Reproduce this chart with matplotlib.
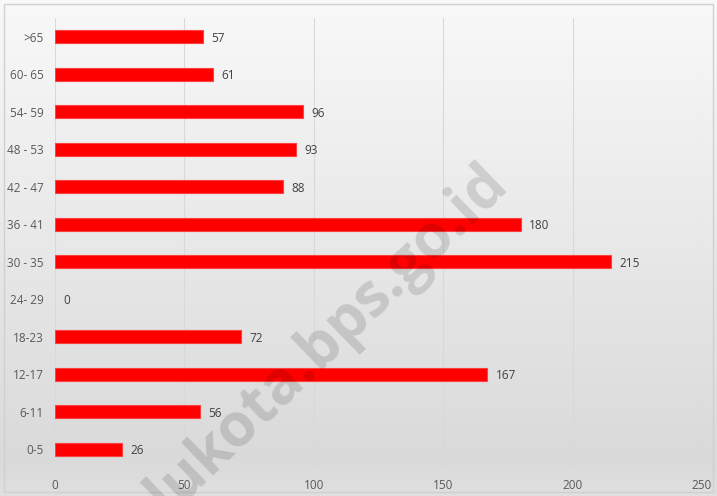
import numpy as np
import matplotlib.pyplot as plt

# age groups, bottom to top
age_groups = ['0-5', '6-11', '12-17', '18-23', '24- 29', '30 - 35', '36 - 41',
              '42 - 47', '48 - 53', '54- 59', '60- 65', '>65']
counts = [26, 56, 167, 72, 0, 215, 180, 88, 93, 96, 61, 57]
x_ticks = [0, 50, 100, 150, 200, 250]

plt.rcParams['font.family'] = ['Open Sans', 'DejaVu Sans']

fig = plt.figure(figsize=(7.17, 4.96), dpi=100)

# gradient background over the whole figure
bg = fig.add_axes([0, 0, 1, 1], zorder=0)
grad = np.linspace(0, 1, 256).reshape(-1, 1)
shade = 0.975 - 0.13 * grad
shade[-20:] += np.linspace(0, 0.03, 20).reshape(-1, 1)
bg.imshow(np.dstack([shade] * 3), aspect='auto', extent=[0, 1, 0, 1])
bg.add_patch(plt.Rectangle((0.006, 0.008), 0.988, 0.984, fill=False,
                           edgecolor='#d0d0d0', lw=1))
bg.set_xlim(0, 1)
bg.set_ylim(0, 1)
bg.axis('off')

ax = fig.add_axes([55 / 717, 28 / 496, 647 / 717, 450 / 496], zorder=1)
ax.patch.set_alpha(0)

y = np.arange(len(age_groups))
edge_w = [0.8 if v > 0 else 0 for v in counts]
ax.barh(y, counts, height=0.34, color='#ff0000', edgecolor='#ff4040',
        linewidth=edge_w, zorder=3)
for yi, v in zip(y, counts):
    ax.annotate(str(v), (v, yi), xytext=(6, 0), textcoords='offset points',
                va='center_baseline', ha='left', fontsize=8.5, color='#404040')

ax.set_xlim(0, 250)
ax.set_ylim(-0.5, len(age_groups) - 0.5)
ax.set_xticks(x_ticks)
ax.set_yticks(y)
ax.set_yticklabels(age_groups)
ax.tick_params(length=0, labelsize=8.5, colors='#595959', pad=8)
ax.tick_params(axis='x', pad=8)
ax.xaxis.grid(True, color='#d9d9d9', lw=0.8, zorder=0)
for s in ax.spines.values():
    s.set_visible(False)

# watermark
fig.text(0.421, 0.266, 'palukota.bps.go.id', rotation=44, fontsize=43,
         fontweight='bold', color='black', alpha=0.13, ha='center',
         va='center', zorder=5, family='Open Sans')

fig.savefig('out.png', dpi=100)
